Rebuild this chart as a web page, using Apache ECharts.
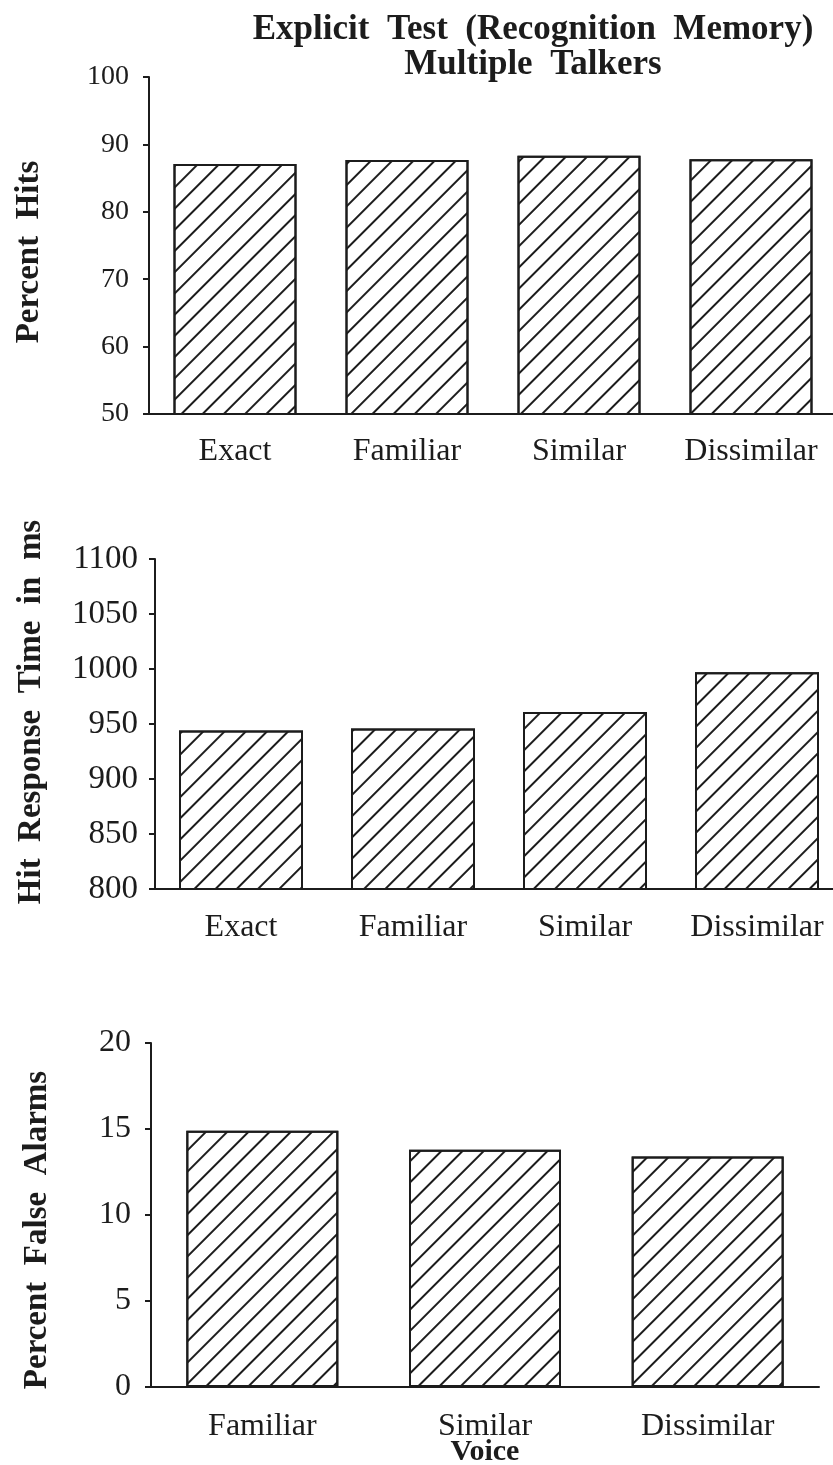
<!DOCTYPE html>
<html>
<head>
<meta charset="utf-8">
<script src="https://cdn.jsdelivr.net/npm/echarts@6/dist/echarts.min.js"></script>
<style>
html,body{margin:0;padding:0;background:#fff;}
#chart{width:833px;height:1465px;}
</style>
</head>
<body>
<div id="chart"></div>
<script>
// ---- Data ----
var titleText = 'Explicit  Test  (Recognition  Memory)\nMultiple  Talkers';

var hitsCategories = ['Exact', 'Familiar', 'Similar', 'Dissimilar'];
var hitsValues = [87.1, 87.7, 88.3, 87.8];
var hitsTicks = { min: 50, max: 100, interval: 10 };
var hitsName = 'Percent  Hits';

var rtCategories = ['Exact', 'Familiar', 'Similar', 'Dissimilar'];
var rtValues = [944, 946, 961, 997];
var rtTicks = { min: 800, max: 1100, interval: 50 };
var rtName = 'Hit  Response  Time  in  ms';

var faCategories = ['Familiar', 'Similar', 'Dissimilar'];
var faValues = [14.9, 13.8, 13.4];
var faTicks = { min: 0, max: 20, interval: 5 };
var faName = 'Percent  False  Alarms';
var faXName = 'Voice';

// ---- Styles ----
var INK = '#1c1c1c';
var SERIF = '"Liberation Serif", "DejaVu Serif", serif';

var hatch = {
  symbol: 'rect',
  symbolSize: 1,
  color: INK,
  dashArrayX: [1, 0],
  dashArrayY: [1.7, 12.8],
  rotation: -Math.PI / 4
};

function xAxisFor(cats, gridIndex, margin, name) {
  var ax = {
    type: 'category',
    gridIndex: gridIndex,
    data: cats,
    axisLine: { show: true, lineStyle: { color: INK, width: 2 } },
    axisTick: { show: false },
    axisLabel: { color: INK, fontFamily: SERIF, fontSize: 32, margin: margin, interval: 0, hideOverlap: false },
    splitLine: { show: false }
  };
  if (name) {
    ax.name = name;
    ax.nameLocation = 'middle';
    ax.nameGap = 53;
    ax.nameMoveOverlap = false;
    ax.nameTextStyle = { color: INK, fontFamily: SERIF, fontSize: 30, fontWeight: 'bold', lineHeight: 24 };
  }
  return ax;
}

function yAxisFor(ticks, gridIndex, name, nameGap, namePad, labelSize, labelMargin) {
  return {
    type: 'value',
    gridIndex: gridIndex,
    min: ticks.min,
    max: ticks.max,
    interval: ticks.interval,
    name: name,
    nameLocation: 'middle',
    nameGap: nameGap,
    nameTextStyle: { color: INK, fontFamily: SERIF, fontSize: 33, fontWeight: 'bold', padding: namePad },
    axisLine: { show: true, lineStyle: { color: INK, width: 2 } },
    axisTick: { show: true, length: 6, lineStyle: { color: INK, width: 2 } },
    axisLabel: {
      color: INK, fontFamily: SERIF, fontSize: labelSize, margin: labelMargin,
      formatter: function (v) { return String(v); }
    },
    splitLine: { show: false }
  };
}

function barSeries(values, idx, barWidth) {
  return {
    type: 'bar',
    xAxisIndex: idx,
    yAxisIndex: idx,
    data: values,
    barWidth: barWidth,
    itemStyle: {
      color: '#ffffff',
      borderColor: INK,
      borderWidth: 2,
      decal: hatch
    },
    emphasis: { disabled: true }
  };
}

var chart = echarts.init(document.getElementById('chart'), null, { renderer: 'canvas' });
chart.setOption({
  backgroundColor: '#ffffff',
  animation: false,
  title: {
    text: titleText,
    left: 528,
    top: 7,
    textAlign: 'center',
    textStyle: { color: INK, fontFamily: SERIF, fontSize: 35, fontWeight: 'bold', lineHeight: 35 }
  },
  grid: [
    { left: 149, top: 77, width: 688, height: 337, outerBoundsMode: 'none', containLabel: false },
    { left: 155, top: 559, width: 688, height: 330, outerBoundsMode: 'none', containLabel: false },
    { left: 151, top: 1043, width: 668, height: 344, outerBoundsMode: 'none', containLabel: false }
  ],
  xAxis: [
    xAxisFor(hitsCategories, 0, 22),
    xAxisFor(rtCategories, 1, 23),
    xAxisFor(faCategories, 2, 24, faXName)
  ],
  yAxis: [
    yAxisFor(hitsTicks, 0, hitsName, 103, [0, 13, 0, 0], 28, 20),
    yAxisFor(rtTicks, 1, rtName, 107, [0, 0, 0, 24], 33, 17),
    yAxisFor(faTicks, 2, faName, 97, [0, 30, 0, 0], 32, 20)
  ],
  series: [
    barSeries(hitsValues, 0, 123),
    barSeries(rtValues, 1, 124),
    barSeries(faValues, 2, 152)
  ]
});
</script>
</body>
</html>
